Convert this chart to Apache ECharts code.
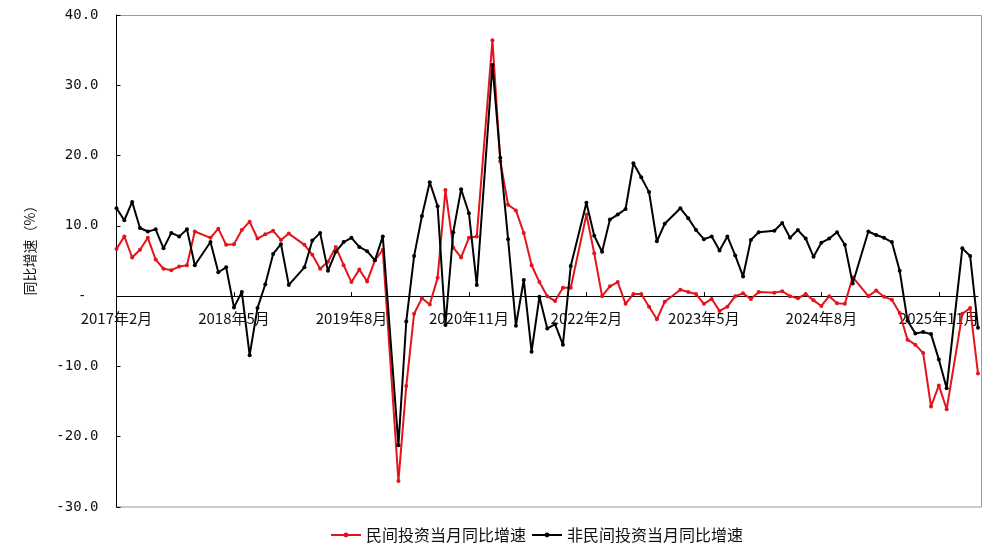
<!DOCTYPE html>
<html>
<head>
<meta charset="utf-8">
<script src="https://cdn.jsdelivr.net/npm/echarts@6/dist/echarts.min.js"></script>
<style>
html,body{margin:0;padding:0;background:#fff;}
#chart{width:984px;height:546px;}
</style>
</head>
<body>
<div id="chart"></div>
<script>
// months 2017-02 .. 2026-04 (January values are not published: null)
const startYear = 2017, startMonth = 2, monthCount = 111;
const months = [];
for (let k = 0; k < monthCount; k++) {
  const m = startMonth - 1 + k;
  months.push((startYear + Math.floor(m / 12)) + '年' + (m % 12 + 1) + '月');
}
const tickLabels = ['2017年2月','2018年5月','2019年8月','2020年11月','2022年2月','2023年5月','2024年8月','2025年11月'];

const seriesNames = ['民间投资当月同比增速', '非民间投资当月同比增速'];

const privateInv = [
  6.7, 8.5, 5.5, 6.6, 8.3, 5.2, 3.9, 3.7, 4.2, 4.4, 9.2, null,
  8.3, 9.6, 7.3, 7.4, 9.4, 10.6, 8.2, 8.8, 9.3, 8.0, 8.9, null,
  7.3, 5.9, 3.9, 4.9, 7.0, 4.4, 2.0, 3.8, 2.1, 5.1, 6.6, null,
  -26.3, -12.8, -2.5, -0.3, -1.2, 2.6, 15.1, 6.9, 5.5, 8.3, 8.5, null,
  36.4, 19.2, 13.0, 12.2, 9.0, 4.4, 2.0, 0.0, -0.7, 1.2, 1.2, null,
  11.6, 6.1, 0.0, 1.4, 2.0, -1.1, 0.3, 0.3, -1.5, -3.3, -0.8, null,
  0.9, 0.6, 0.3, -1.1, -0.4, -2.1, -1.5, 0.0, 0.4, -0.4, 0.6, null,
  0.5, 0.7, 0.0, -0.3, 0.3, -0.6, -1.4, 0.0, -1.0, -1.1, 2.7, null,
  0.0, 0.8, -0.1, -0.5, -2.4, -6.2, -6.9, -8.1, -15.7, -12.7, -16.1, null,
  -2.5, -1.7, -11.0
];

const nonPrivateInv = [
  12.5, 10.8, 13.4, 9.7, 9.2, 9.5, 6.8, 9.0, 8.5, 9.5, 4.4, null,
  7.7, 3.4, 4.1, -1.6, 0.6, -8.4, -1.7, 1.7, 6.0, 7.4, 1.6, null,
  4.1, 7.9, 9.0, 3.6, 6.3, 7.7, 8.3, 7.0, 6.4, 5.1, 8.5, null,
  -21.2, -3.6, 5.7, 11.4, 16.2, 12.8, -4.1, 9.1, 15.2, 11.8, 1.6, null,
  32.9, 19.7, 8.1, -4.2, 2.3, -7.9, -0.1, -4.6, -4.0, -6.9, 4.3, null,
  13.3, 8.6, 6.3, 10.9, 11.6, 12.4, 18.9, 16.9, 14.8, 7.8, 10.3, null,
  12.5, 11.1, 9.4, 8.1, 8.5, 6.5, 8.5, 5.8, 2.8, 8.0, 9.1, null,
  9.3, 10.4, 8.3, 9.4, 8.2, 5.6, 7.6, 8.2, 9.1, 7.3, 1.8, null,
  9.2, 8.7, 8.3, 7.7, 3.6, -3.5, -5.3, -5.1, -5.4, -9.0, -13.1, null,
  6.8, 5.7, -4.5
];

const yMin = -30, yMax = 40, yStep = 10;

const gridTop = 15, gridBottom = 39, chartH = 546;
const plotH = chartH - gridTop - gridBottom;
// move the category axis (line, ticks, labels) up to the zero line
const zeroOffset = -plotH * (0 - yMin) / (yMax - yMin);

const chart = echarts.init(document.getElementById('chart'), null, {renderer: 'canvas'});
const cjk = '"Noto Sans CJK SC", "Noto Sans", sans-serif';
const mono = '"DejaVu Sans Mono", monospace';

chart.setOption({
  animation: false,
  backgroundColor: '#ffffff',
  grid: {left: 116.5, right: 6, top: gridTop, bottom: gridBottom, containLabel: false},
  graphic: [{
    type: 'rect', silent: true, z: 0,
    shape: {x: 116.5, y: 15.5, width: 865, height: 491.5},
    style: {fill: 'none', stroke: '#9a9a9a', lineWidth: 1}
  }],
  legend: {
    left: 330, top: 527, padding: 0,
    itemWidth: 30, itemHeight: 6, itemGap: 5,
    textStyle: {fontFamily: cjk, fontSize: 16, color: '#111'},
    data: seriesNames
  },
  xAxis: {
    type: 'category',
    data: months,
    boundaryGap: false,
    offset: zeroOffset,
    axisLine: {onZero: false, lineStyle: {color: '#000', width: 1}},
    axisTick: {show: true, inside: true, length: 4, interval: 14, lineStyle: {color: '#000'}},
    axisLabel: {
      interval: 14, margin: 15,
      fontFamily: cjk, fontSize: 15, color: '#111'
    },
    splitLine: {show: false}
  },
  yAxis: {
    type: 'value',
    min: yMin, max: yMax, interval: yStep,
    name: '同比增速（%）',
    nameLocation: 'middle',
    nameGap: 80,
    nameRotate: 90,
    nameTextStyle: {fontFamily: cjk, fontSize: 14, color: '#111', padding: [0, 0, 0, 28]},
    axisLine: {show: true, lineStyle: {color: '#000', width: 1}},
    axisTick: {show: true, inside: true, length: 4, lineStyle: {color: '#000'}},
    axisLabel: {
      margin: 18,
      fontFamily: mono, fontSize: 14, color: '#111',
      formatter: function (v) { return v === 0 ? '{z|-}' : v.toFixed(1); },
      rich: {z: {fontFamily: mono, fontSize: 14, color: '#111', padding: [0, 12, 0, 0]}}
    },
    splitLine: {show: false}
  },
  series: [
    {
      name: seriesNames[0], type: 'line', data: privateInv,
      connectNulls: true, symbol: 'circle', symbolSize: 4, showSymbol: true,
      itemStyle: {color: '#e3141b'},
      lineStyle: {color: '#e3141b', width: 2}, z: 3
    },
    {
      name: seriesNames[1], type: 'line', data: nonPrivateInv,
      connectNulls: true, symbol: 'circle', symbolSize: 4, showSymbol: true,
      itemStyle: {color: '#000000'},
      lineStyle: {color: '#000000', width: 2}, z: 4
    }
  ]
});
</script>
</body>
</html>
